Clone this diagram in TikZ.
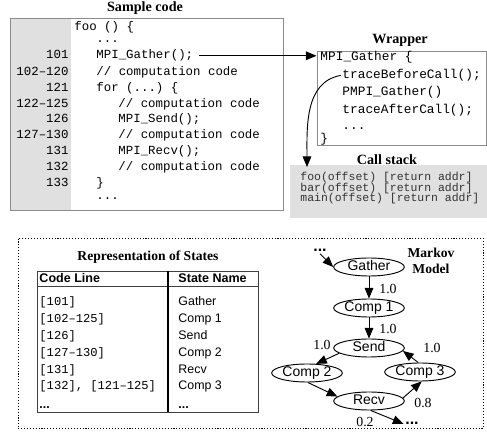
\documentclass[tikz,border=0pt]{standalone}
\usepackage{fontspec}
\setmainfont{Liberation Serif}
\setsansfont{Liberation Sans}
\setmonofont{Liberation Mono}
\usetikzlibrary{arrows.meta,positioning,shapes.geometric,fit}
\definecolor{colgray}{RGB}{224,224,224}
\definecolor{boxgray}{RGB}{140,140,140}

\begin{document}
\begin{tikzpicture}[x=0.75pt,y=-0.75pt,line width=0.7pt,
  title/.style={font=\fontsize{10.6}{12}\selectfont\bfseries},
  lnum/.style={anchor=base east,inner sep=0pt,font=\fontsize{9.3}{11}\selectfont\ttfamily},
  code/.style={anchor=base west,inner sep=0pt,font=\fontsize{9.3}{11}\selectfont\ttfamily},
  wcode/.style={anchor=base west,inner sep=0pt,font=\fontsize{9.6}{12}\selectfont\ttfamily},
  scode/.style={anchor=base west,inner sep=0pt,font=\fontsize{8.6}{10}\selectfont\ttfamily,text=black!80},
  tcode/.style={anchor=base west,inner sep=0pt,font=\fontsize{9.1}{11}\selectfont\ttfamily},
  tname/.style={anchor=base west,inner sep=0pt,font=\fontsize{9.3}{11}\selectfont\sffamily},
  thead/.style={anchor=base west,inner sep=0pt,font=\fontsize{9.4}{11}\selectfont\sffamily\bfseries},
  state/.style={draw,ellipse,minimum width=53pt,minimum height=13.5pt,inner sep=0pt,
    text height=7.5pt,text depth=1.5pt,font=\fontsize{10.5}{12}\selectfont\sffamily},
  prob/.style={inner sep=0pt,font=\fontsize{10.4}{12}\selectfont},
  mdots/.style={anchor=base,inner sep=1pt,font=\fontsize{12}{12}\selectfont\sffamily\bfseries},
  trans/.style={-{Triangle[length=8pt,width=6.5pt]}}
]
  \useasboundingbox (0,0) rectangle (487,435);

  % sample code
  \node[title] (codetitle) at (145,8) {Sample code};
  \coordinate (cb1) at (10,18);
  \coordinate (cb2) at (283,210);
  \coordinate (cb3) at (71,210);
  \node[fill=colgray,fit=(cb1)(cb3),inner sep=0pt] (numcol) {};
  \node[draw=boxgray,fit=(cb1)(cb2),inner sep=0pt] (codebox) {};
  \node[code] (cfoo) at (74,31) {foo () \{};
  \node[code] (cdots1) at (96,43) {...};
  \node[lnum] (n101) at (69,59) {101};
  \node[code] (gcall) at (96,59) {MPI\_Gather();};
  \node[lnum] (n102) at (69,75.5) {102–120};
  \node[code] (c102) at (96,75.5) {// computation code};
  \node[lnum] (n121) at (69,91.3) {121};
  \node[code] (cfor) at (96,91.3) {for (...) \{};
  \node[lnum] (n122) at (69,107.2) {122–125};
  \node[code] (c122) at (118,107.2) {// computation code};
  \node[lnum] (n126) at (69,123) {126};
  \node[code] (csend) at (118,123) {MPI\_Send();};
  \node[lnum] (n127) at (69,138.8) {127–130};
  \node[code] (c127) at (118,138.8) {// computation code};
  \node[lnum] (n131) at (69,154.6) {131};
  \node[code] (crecv) at (118,154.6) {MPI\_Recv();};
  \node[lnum] (n132) at (69,170.4) {132};
  \node[code] (c132) at (118,170.4) {// computation code};
  \node[lnum] (n133) at (69,186.2) {133};
  \node[code] (cclose) at (96,186.2) {\}};
  \node[code] (cdots2) at (96,200) {...};

  % wrapper
  \node[title] (wraptitle) at (400,40) {Wrapper};
  \coordinate (wb1) at (317,51);
  \coordinate (wb2) at (486,145);
  \node[draw=boxgray,fit=(wb1)(wb2),inner sep=0pt] (wrapbox) {};
  \node[wcode] (wgather) at (320,61) {MPI\_Gather \{};
  \node[wcode] (tbefore) at (342,78.5) {traceBeforeCall();};
  \node[wcode] (pgather) at (342,96) {PMPI\_Gather()};
  \node[wcode] (tafter) at (342,113.5) {traceAfterCall();};
  \node[wcode] (wdots) at (342,129.5) {...};
  \node[wcode] (wclose) at (320,143) {\}};

  % call stack
  \coordinate (sb1) at (290,165);
  \coordinate (sb2) at (487,218);
  \node[fill=colgray,fit=(sb1)(sb2),inner sep=0pt] (stackbox) {};
  \node[title] (stacktitle) at (387,160) {Call stack};
  \node[scode] (sfoo) at (300,181) {foo(offset) [return addr]};
  \node[scode] (sbar) at (300,191.5) {bar(offset) [return addr]};
  \node[scode] (smain) at (300,202) {main(offset) [return addr]};
  \coordinate (stackin) at (307,167);

  \draw[trans,shorten <=4pt] (gcall.east) -- (gcall.east -| wrapbox.west);
  \draw[trans,shorten <=1pt] (tbefore.west) to[out=190,in=90] (stackin);

  % states
  \coordinate (mb1) at (18,238);
  \coordinate (mb2) at (483,428);
  \node[draw,dash pattern=on 0.8pt off 1.4pt,fit=(mb1)(mb2),inner sep=0pt] (statebox) {};
  \node[title,font=\fontsize{10.2}{12}\selectfont\bfseries] (reptitle) at (148,257) {Representation of States};
  \coordinate (tb1) at (37,271);
  \coordinate (tb2) at (258,412);
  \node[draw=black!75,fit=(tb1)(tb2),inner sep=0pt] (table) {};
  \draw[black!75] (37,286) -- (258,286);
  \draw[line width=1.5pt] (168,271) -- (168,412);
  \node[thead] (hcode) at (39,282.5) {Code Line};
  \node[thead] (hname) at (178,282.5) {State Name};
  \node[tcode] (r1) at (39,306) {[101]};
  \node[tname] (s1) at (178,306) {Gather};
  \node[tcode] (r2) at (39,322.8) {[102–125]};
  \node[tname] (s2) at (178,322.8) {Comp 1};
  \node[tcode] (r3) at (39,339.6) {[126]};
  \node[tname] (s3) at (178,339.6) {Send};
  \node[tcode] (r4) at (39,356.4) {[127–130]};
  \node[tname] (s4) at (178,356.4) {Comp 2};
  \node[tcode] (r5) at (39,373.2) {[131]};
  \node[tname] (s5) at (178,373.2) {Recv};
  \node[tcode] (r6) at (39,390) {[132], [121–125]};
  \node[tname] (s6) at (178,390) {Comp 3};
  \node[tname,font=\fontsize{9.3}{11}\selectfont\sffamily\bfseries] (r7) at (39,409) {...};
  \node[tname,font=\fontsize{9.3}{11}\selectfont\sffamily\bfseries] (s7) at (178,409) {...};

  % markov model
  \node[font=\fontsize{10.2}{12}\selectfont\bfseries,align=center] (mtitle) at (431,261) {Markov\\Model};
  \node[state] (gather) at (369,267) {Gather};
  \node[state] (comp1) at (369,308) {Comp 1};
  \node[state] (send) at (369,348) {Send};
  \node[state] (comp2) at (307,373) {Comp 2};
  \node[state] (comp3) at (420,372) {Comp 3};
  \node[state] (recv) at (369,401) {Recv};
  \node[mdots] (mstart) at (320,252) {...};
  \node[mdots] (mend) at (412,425) {...};
  \draw[trans] (mstart.south) -- (gather.west);
  \draw[trans] (gather) -- (comp1);
  \draw[trans] (comp1) -- (send);
  \draw[trans] (send.190) -- (comp2.45);
  \draw[trans] (comp3.100) -- (send.-5);
  \draw[trans] (comp2.-85) -- (recv.172);
  \draw[trans] (recv.5) -- (comp3.-80);
  \draw[trans] (recv.-80) -- (mend.west);
  \node[prob] (p1) at (388,289) {1.0};
  \node[prob] (p2) at (388,329) {1.0};
  \node[prob] (p3) at (322,345) {1.0};
  \node[prob] (p4) at (432,348) {1.0};
  \node[prob] (p5) at (423,403) {0.8};
  \node[prob] (p6) at (365,422) {0.2};
\end{tikzpicture}
\end{document}
